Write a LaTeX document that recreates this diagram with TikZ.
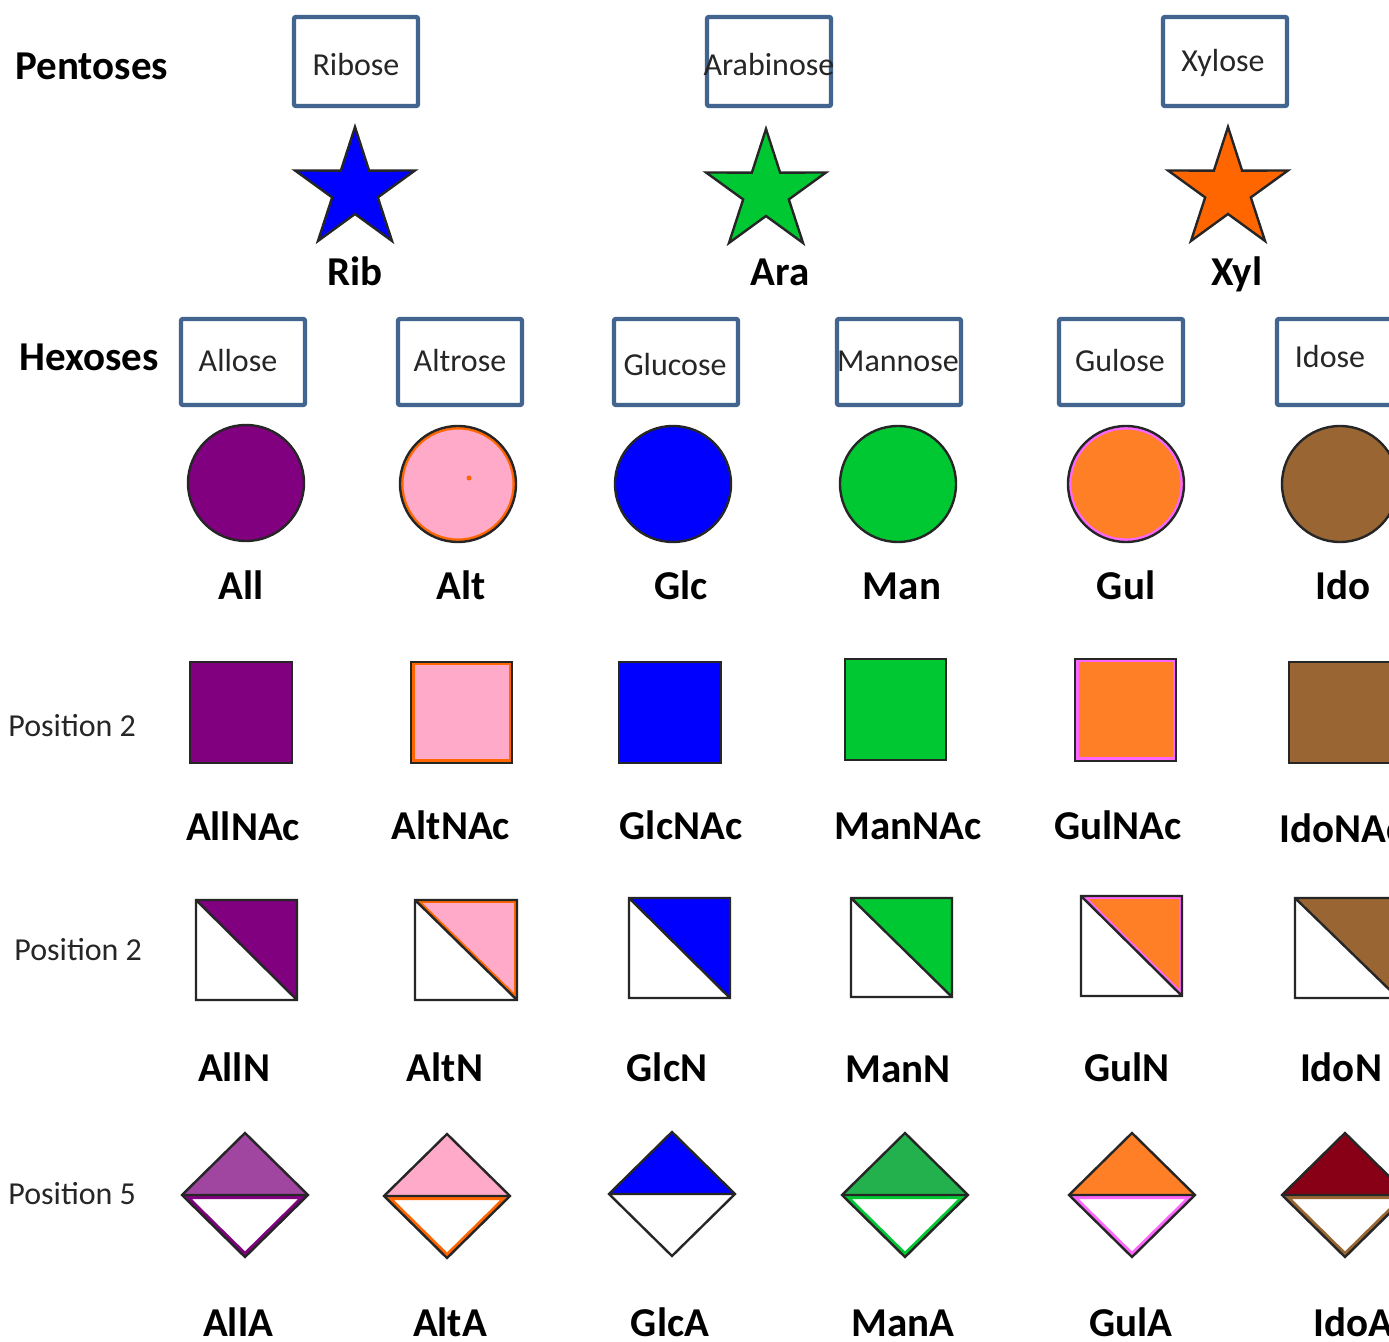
\documentclass[tikz,border=0pt]{standalone}
\usepackage{fontspec}
\setmainfont{Carlito}

\definecolor{boxblue}{RGB}{65,101,143}
\definecolor{allpurple}{RGB}{128,0,128}
\definecolor{altpink}{RGB}{255,170,200}
\definecolor{ringorange}{RGB}{255,102,0}
\definecolor{glcblue}{RGB}{0,0,255}
\definecolor{mangreen}{RGB}{0,200,50}
\definecolor{gulorange}{RGB}{255,127,39}
\definecolor{gulpink}{RGB}{255,102,255}
\definecolor{idobrown}{RGB}{153,102,51}
\definecolor{allalight}{RGB}{160,70,160}
\definecolor{managreen}{RGB}{34,177,76}
\definecolor{idoadark}{RGB}{136,0,21}

\tikzset{
  namebox/.style={draw=boxblue, line width=2.2pt, rounded corners=1pt,
    minimum width=62pt, inner sep=0pt},
  boxtext/.style={font=\fontsize{16}{19}\selectfont, text=black!85,
    anchor=base, inner sep=0pt},
  symlabel/.style={font=\fontsize{20.5}{24}\bfseries\selectfont,
    anchor=base, inner sep=0pt},
  rowlabel/.style={font=\fontsize{20.5}{24}\bfseries\selectfont,
    anchor=base west, inner sep=0pt},
  poslabel/.style={font=\fontsize{16}{19}\selectfont, text=black!85,
    anchor=base west, inner sep=0pt},
  outline/.style={draw=black!85, line width=1.2pt},
}

% five-pointed star: centre x, centre y, fill
\newcommand\glstar[3]{%
  \draw[outline, fill=#3] (#1,#2) +(-90:63)
    \foreach \i in {1,...,9} { -- +({-90+36*\i}:{43.5+19.5*cos(180*\i)}) }
    -- cycle;}

% circle with an inner ring: centre x, centre y, fill, ring
\newcommand\glcircle[4]{%
  \begin{scope}
    \clip (#1,#2) circle (58);
    \fill[#3] (#1,#2) circle (58);
    \draw[#4, line width=3.5pt] (#1,#2) circle (58);
  \end{scope}
  \draw[outline] (#1,#2) circle (58);}

% square with an inner ring: corners, fill, ring
\newcommand\glsquare[6]{%
  \begin{scope}
    \clip (#1,#2) rectangle (#3,#4);
    \fill[#5] (#1,#2) rectangle (#3,#4);
    \draw[#6, line width=3.5pt] (#1,#2) rectangle (#3,#4);
  \end{scope}
  \draw[outline] (#1,#2) rectangle (#3,#4);}

% diagonally split square, upper right half coloured
\newcommand\glhalf[6]{%
  \fill[white] (#1,#2) rectangle (#3,#4);
  \begin{scope}
    \clip (#1,#2) -- (#3,#2) -- (#3,#4) -- cycle;
    \fill[#5] (#1,#2) rectangle (#3,#4);
    \draw[#6, line width=3pt] (#1,#2) -- (#3,#2) -- (#3,#4) -- cycle;
  \end{scope}
  \draw[outline] (#1,#2) rectangle (#3,#4) (#1,#2) -- (#3,#4);}

% diamond, upper half coloured, lower half white with inner ring
\newcommand\gldiamond[4]{%
  \fill[#3] ({#1-63},#2) -- (#1,{#2-62}) -- ({#1+63},#2) -- cycle;
  \begin{scope}
    \clip ({#1-63},#2) -- (#1,{#2+62}) -- ({#1+63},#2) -- cycle;
    \fill[white] ({#1-63},#2) -- (#1,{#2+62}) -- ({#1+63},#2) -- cycle;
    \draw[#4, line width=4pt] ({#1-63},#2) -- (#1,{#2+62}) -- ({#1+63},#2) -- cycle;
  \end{scope}
  \draw[outline] ({#1-63},#2) -- (#1,{#2-62}) -- ({#1+63},#2)
    -- (#1,{#2+62}) -- cycle ({#1-63},#2) -- ({#1+63},#2);}

\begin{document}
\begin{tikzpicture}[x=0.5pt, y=-0.5pt]
  \fill[white] (0,0) rectangle (1389,1342);
  \clip (0,0) rectangle (1389,1342);

  % ---------- pentoses ----------
  \node[rowlabel] (pent) at (15,80) {Pentoses};

  \node[namebox, minimum height=44.5pt] (riboseBox) at (356,61.5) {};
  \node[namebox, minimum height=44.5pt] (arabinoseBox) at (769,61.5) {};
  \node[namebox, minimum height=44.5pt] (xyloseBox) at (1225,61.5) {};
  \node[boxtext] (ribose) at (356,76) {Ribose};
  \node[boxtext] (arabinose) at (769,76) {Arabinose};
  \node[boxtext] (xylose) at (1223,72) {Xylose};

  \glstar{355}{190}{glcblue}
  \glstar{766}{192}{mangreen}
  \glstar{1228}{190}{ringorange}

  \node[symlabel] (rib) at (355,286) {Rib};
  \node[symlabel] (ara) at (780,286) {Ara};
  \node[symlabel] (xyl) at (1237,286) {Xyl};

  % ---------- hexoses ----------
  \node[rowlabel] (hex) at (19,371) {Hexoses};

  \node[namebox, minimum height=43pt] (alloseBox) at (243,362) {};
  \node[namebox, minimum height=43pt] (altroseBox) at (460,362) {};
  \node[namebox, minimum height=43pt] (glucoseBox) at (676,362) {};
  \node[namebox, minimum height=43pt] (mannoseBox) at (899,362) {};
  \node[namebox, minimum height=43pt] (guloseBox) at (1121,362) {};
  \node[namebox, minimum height=43pt] (idoseBox) at (1339,362) {};
  \node[boxtext] (allose) at (238,372) {Allose};
  \node[boxtext] (altrose) at (460,372) {Altrose};
  \node[boxtext] (glucose) at (675,376) {Glucose};
  \node[boxtext] (mannose) at (898,372) {Mannose};
  \node[boxtext] (gulose) at (1120,372) {Gulose};
  \node[boxtext] (idose) at (1330,368) {Idose};

  \glcircle{246}{483}{allpurple}{allpurple}
  \glcircle{458}{484}{altpink}{ringorange}
  \fill[ringorange] (469,478) circle (2.5);
  \glcircle{673}{484}{glcblue}{glcblue}
  \glcircle{898}{484}{mangreen}{mangreen}
  \glcircle{1126}{484}{gulorange}{gulpink}
  \glcircle{1340}{484}{idobrown}{idobrown}

  \node[symlabel] (all) at (241,600) {All};
  \node[symlabel] (alt) at (461,600) {Alt};
  \node[symlabel] (glc) at (681,600) {Glc};
  \node[symlabel] (man) at (902,600) {Man};
  \node[symlabel] (gul) at (1126,600) {Gul};
  \node[symlabel] (ido) at (1343,600) {Ido};

  % ---------- N-acetyl hexosamines ----------
  \node[poslabel] (posA) at (8,737) {Position 2};

  \glsquare{190}{662}{292}{763}{allpurple}{allpurple}
  \glsquare{411}{662}{512}{763}{altpink}{ringorange}
  \glsquare{619}{662}{721}{763}{glcblue}{glcblue}
  \glsquare{845}{659}{946}{760}{mangreen}{mangreen}
  \glsquare{1075}{659}{1176}{761}{gulorange}{gulpink}
  \glsquare{1289}{662}{1392}{763}{idobrown}{idobrown}

  \node[symlabel] (allnac) at (243,841) {AllNAc};
  \node[symlabel] (altnac) at (451,840) {AltNAc};
  \node[symlabel] (glcnac) at (681,840) {GlcNAc};
  \node[symlabel] (mannac) at (908,840) {ManNAc};
  \node[symlabel] (gulnac) at (1118,840) {GulNAc};
  \node[symlabel, anchor=base west] (idonac) at (1279,843) {IdoNAc};

  % ---------- hexosamines ----------
  \node[poslabel] (posB) at (14,961) {Position 2};

  \glhalf{196}{900}{297}{1000}{allpurple}{allpurple}
  \glhalf{415}{900}{517}{1000}{altpink}{ringorange}
  \glhalf{629}{898}{730}{998}{glcblue}{glcblue}
  \glhalf{851}{898}{952}{997}{mangreen}{mangreen}
  \glhalf{1081}{896}{1182}{996}{gulorange}{gulpink}
  \glhalf{1295}{898}{1398}{998}{idobrown}{idobrown}

  \node[symlabel] (alln) at (234,1081) {AllN};
  \node[symlabel] (altn) at (445,1081) {AltN};
  \node[symlabel] (glcn) at (667,1081) {GlcN};
  \node[symlabel] (mann) at (898,1082) {ManN};
  \node[symlabel] (guln) at (1127,1081) {GulN};
  \node[symlabel] (idon) at (1341,1081) {IdoN};

  % ---------- uronic acids ----------
  \node[poslabel] (posC) at (8,1204) {Position 5};

  \gldiamond{245}{1195}{allalight}{allpurple}
  \gldiamond{447}{1196}{altpink}{ringorange}
  \gldiamond{672}{1194}{glcblue}{white}
  \gldiamond{905}{1195}{managreen}{mangreen}
  \gldiamond{1132}{1195}{gulorange}{gulpink}
  \gldiamond{1345}{1195}{idoadark}{idobrown}

  \node[symlabel] (alla) at (238,1336) {AllA};
  \node[symlabel] (alta) at (450,1336) {AltA};
  \node[symlabel] (glca) at (670,1336) {GlcA};
  \node[symlabel] (mana) at (903,1336) {ManA};
  \node[symlabel] (gula) at (1131,1336) {GulA};
  \node[symlabel, anchor=base west] (idoa) at (1313,1336) {IdoA};
\end{tikzpicture}
\end{document}
